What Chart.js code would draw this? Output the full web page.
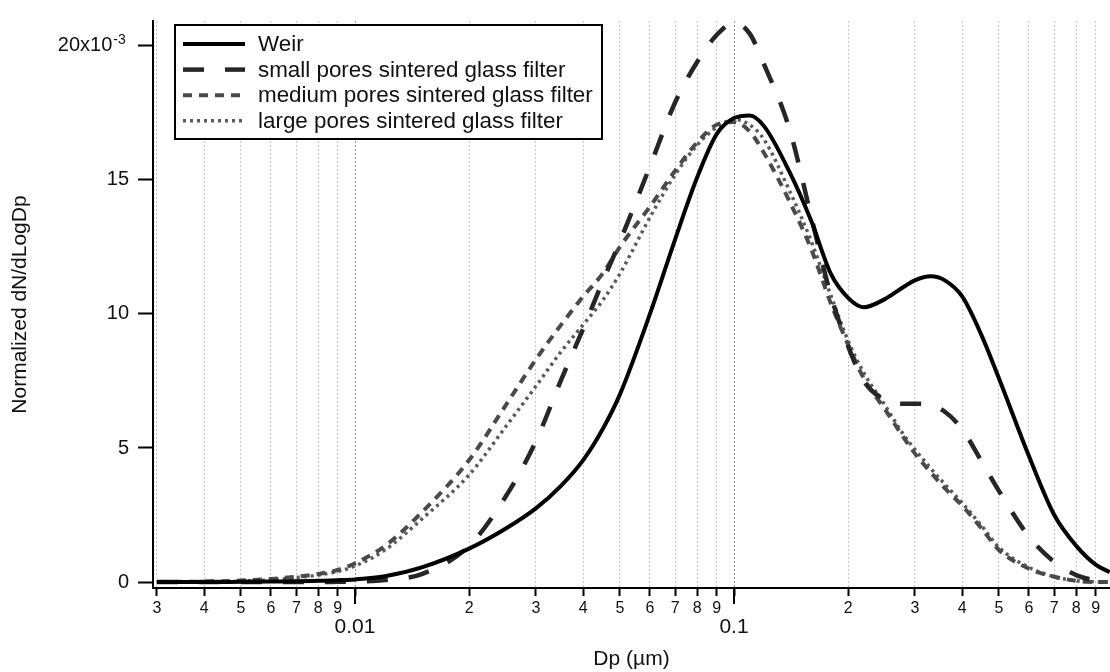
<!DOCTYPE html>
<html>
<head>
<meta charset="utf-8">
<script src="https://cdn.jsdelivr.net/npm/chart.js@4.4.1/dist/chart.umd.min.js"></script>
<style>
html,body{margin:0;padding:0;background:#fff;overflow:hidden}
#wrap{width:1110px;height:672px}
</style>
</head>
<body>
<div id="wrap"><canvas id="c" width="1110" height="672"></canvas></div>
<script>
// Particle diameter Dp (µm)
const dp = [0.003, 0.004, 0.005, 0.006, 0.007, 0.008, 0.009, 0.01, 0.012, 0.015, 0.02, 0.025, 0.03, 0.035, 0.04, 0.045, 0.05, 0.06, 0.07, 0.08, 0.09, 0.1, 0.11, 0.12, 0.14, 0.16, 0.18, 0.2, 0.22, 0.25, 0.28, 0.3, 0.33, 0.36, 0.4, 0.45, 0.5, 0.6, 0.7, 0.8, 0.9, 0.98];
// Normalized dN/dLogDp (x10^-3)
const weir = [0, 0, 0.01, 0.02, 0.03, 0.05, 0.07, 0.1, 0.22, 0.55, 1.25, 2.0, 2.75, 3.6, 4.55, 5.7, 7.0, 10.0, 12.8, 15.1, 16.7, 17.3, 17.4, 17.0, 15.3, 13.45, 11.5, 10.6, 10.25, 10.55, 11.0, 11.25, 11.4, 11.25, 10.65, 9.2, 7.6, 4.7, 2.5, 1.35, 0.65, 0.37];
const smallPores = [0, 0, 0, 0, 0, 0, 0.01, 0.02, 0.08, 0.3, 1.35, 3.2, 5.25, 7.55, 9.45, 11.2, 12.7, 15.5, 17.9, 19.4, 20.4, 20.85, 20.45, 19.3, 16.9, 13.6, 10.7, 8.8, 7.5, 6.8, 6.65, 6.65, 6.6, 6.35, 5.7, 4.5, 3.4, 1.7, 0.75, 0.26, 0.06, 0.02];
const mediumPores = [0, 0.02, 0.06, 0.12, 0.2, 0.3, 0.45, 0.7, 1.35, 2.6, 4.55, 6.6, 8.3, 9.6, 10.65, 11.5, 12.5, 14.0, 15.35, 16.4, 17.05, 17.15, 16.8, 16.0, 14.2, 12.4, 10.4, 8.85, 7.6, 6.45, 5.4, 4.8, 4.1, 3.5, 2.85, 2.0, 1.2, 0.5, 0.2, 0.05, 0.0, 0.0];
const largePores = [0, 0.01, 0.03, 0.08, 0.17, 0.26, 0.4, 0.6, 1.2, 2.35, 4.0, 5.8, 7.3, 8.6, 9.6, 10.5, 11.5, 13.6, 15.2, 16.3, 16.95, 17.25, 17.05, 16.5, 14.6, 12.7, 10.7, 9.0, 7.8, 6.6, 5.5, 4.95, 4.25, 3.65, 2.95, 2.1, 1.3, 0.55, 0.2, 0.05, 0.01, 0.0];
const seriesNames = ['Weir', 'small pores sintered glass filter', 'medium pores sintered glass filter', 'large pores sintered glass filter'];

// Axis ticks
const xTickValues = [0.003, 0.004, 0.005, 0.006, 0.007, 0.008, 0.009, 0.01, 0.02, 0.03, 0.04, 0.05, 0.06, 0.07, 0.08, 0.09, 0.1, 0.2, 0.3, 0.4, 0.5, 0.6, 0.7, 0.8, 0.9];
const xTickLabels = ['3', '4', '5', '6', '7', '8', '9', '0.01', '2', '3', '4', '5', '6', '7', '8', '9', '0.1', '2', '3', '4', '5', '6', '7', '8', '9'];
const xMajorTicks = [0.01, 0.1];
const yTickValues = [0, 5, 10, 15, 20];
const yTickLabels = ['0', '5', '10', '15', '20x10   '];
const yTopExponent = '-3';
const xTitle = 'Dp (µm)';
const yTitle = 'Normalized dN/dLogDp';

const FONT = '"Liberation Sans", Arial, Helvetica, sans-serif';
const TXT = '#111';
const seriesValues = [weir, smallPores, mediumPores, largePores];
const styles = [
  {color: '#000000', width: 4, dash: []},
  {color: '#262626', width: 4.5, dash: [21, 21]},
  {color: '#4a4a4a', width: 4, dash: [9, 7]},
  {color: '#5a5a5a', width: 3.5, dash: [3, 4]}
];

const datasets = seriesNames.map((name, i) => ({
  label: name,
  data: dp.map((x, j) => ({x: x, y: seriesValues[i][j]})),
  borderColor: styles[i].color,
  borderWidth: styles[i].width,
  borderDash: styles[i].dash,
  borderCapStyle: 'butt',
  pointRadius: 0,
  fill: false,
  cubicInterpolationMode: 'monotone'
}));

const isMajor = v => xMajorTicks.some(m => Math.abs(m - v) < 1e-12);

const extrasPlugin = {
  id: 'extras',
  afterDraw(chart) {
    const ctx = chart.ctx;
    const xs = chart.scales.x, ys = chart.scales.y;
    ctx.save();
    // longer major ticks
    ctx.strokeStyle = '#000';
    ctx.lineWidth = 2;
    xMajorTicks.forEach(v => {
      const px = Math.round(xs.getPixelForValue(v));
      ctx.beginPath();
      ctx.moveTo(px, xs.top);
      ctx.lineTo(px, xs.top + 16);
      ctx.stroke();
    });
    // exponent on the top y label
    ctx.font = '20px ' + FONT;
    const spaceW = ctx.measureText('   ').width;
    const xRight = ys.right - 15 - 9 - spaceW;
    const py = ys.getPixelForValue(yTickValues[yTickValues.length - 1]);
    ctx.font = '14px ' + FONT;
    ctx.fillStyle = TXT;
    ctx.textAlign = 'left';
    ctx.textBaseline = 'alphabetic';
    ctx.fillText(yTopExponent, xRight + 1, py - 2);
    // legend box
    const bx = 175, by = 25, bw = 427, bh = 114;
    ctx.fillStyle = '#fff';
    ctx.fillRect(bx, by, bw, bh);
    ctx.strokeStyle = '#000';
    ctx.lineWidth = 2;
    ctx.setLineDash([]);
    ctx.strokeRect(bx, by, bw, bh);
    chart.data.datasets.forEach((ds, i) => {
      const ry = 44 + i * 25.6;
      ctx.save();
      ctx.strokeStyle = ds.borderColor;
      ctx.lineWidth = ds.borderWidth;
      ctx.setLineDash(ds.borderDash || []);
      ctx.lineCap = 'butt';
      ctx.beginPath();
      ctx.moveTo(183, ry);
      ctx.lineTo(245, ry);
      ctx.stroke();
      ctx.restore();
      ctx.fillStyle = TXT;
      ctx.font = '22.4px ' + FONT;
      ctx.textAlign = 'left';
      ctx.textBaseline = 'middle';
      ctx.fillText(ds.label, 258, ry + 1);
    });
    ctx.restore();
  }
};

new Chart(document.getElementById('c'), {
  type: 'line',
  data: {datasets: datasets},
  plugins: [extrasPlugin],
  options: {
    responsive: false,
    animation: false,
    devicePixelRatio: 1,
    layout: {padding: {top: 10, left: 0, right: 0, bottom: 0}},
    plugins: {legend: {display: false}, tooltip: {enabled: false}},
    scales: {
      x: {
        type: 'logarithmic',
        min: 0.00293,
        max: 0.982,
        afterBuildTicks: s => { s.ticks = xTickValues.map(v => ({value: v})); },
        afterFit: s => { s.height = 84; },
        grid: {
          display: true,
          drawOnChartArea: true,
          color: c => (c.tick && isMajor(c.tick.value)) ? '#9a9a9a' : '#c6c6c6',
          lineWidth: 1,
          drawTicks: true,
          tickLength: 8,
          tickColor: '#000',
          tickWidth: 2
        },
        border: {display: true, color: '#000', width: 2, dash: [2, 2]},
        ticks: {
          autoSkip: false,
          maxRotation: 0,
          minRotation: 0,
          padding: 3,
          color: TXT,
          font: c => (c.tick && isMajor(c.tick.value)) ? {family: FONT, size: 21, lineHeight: 0.89} : {family: FONT, size: 16},
          callback: (v, i) => isMajor(v) ? ['', xTickLabels[i]] : xTickLabels[i]
        },
        title: {display: true, text: xTitle, color: TXT, font: {family: FONT, size: 21}, padding: {top: 0, bottom: 0}}
      },
      y: {
        type: 'linear',
        min: -0.22,
        max: 20.92,
        afterBuildTicks: s => { s.ticks = yTickValues.map(v => ({value: v})); },
        afterFit: s => { s.width = 153; },
        grid: {drawOnChartArea: false, drawTicks: true, tickLength: 15, tickColor: '#000', tickWidth: 2},
        border: {display: true, color: '#000', width: 2},
        ticks: {padding: 9, color: TXT, font: {family: FONT, size: 20}, callback: (v, i) => yTickLabels[i]},
        title: {display: true, text: yTitle, color: TXT, font: {family: FONT, size: 21}, padding: {top: 8, bottom: 0}}
      }
    }
  }
});
</script>
</body>
</html>
